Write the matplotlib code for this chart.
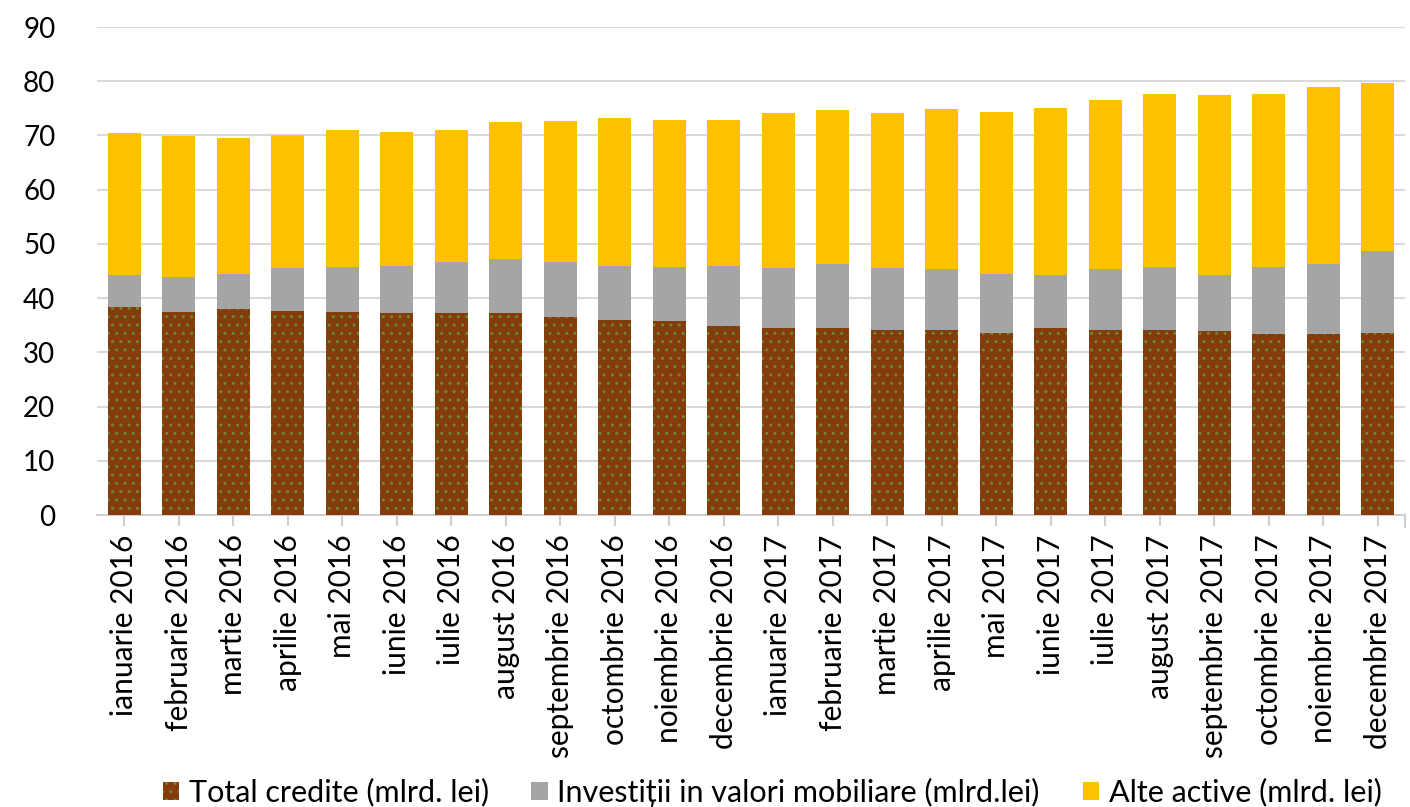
import matplotlib
matplotlib.use("Agg")
import matplotlib.pyplot as plt
import numpy as np

months = ["ianuarie 2016", "februarie 2016", "martie 2016", "aprilie 2016", "mai 2016",
          "iunie 2016", "iulie 2016", "august 2016", "septembrie 2016", "octombrie 2016",
          "noiembrie 2016", "decembrie 2016", "ianuarie 2017", "februarie 2017", "martie 2017",
          "aprilie 2017", "mai 2017", "iunie 2017", "iulie 2017", "august 2017",
          "septembrie 2017", "octombrie 2017", "noiembrie 2017", "decembrie 2017"]

# Total credite (mlrd. lei)
credite = [38.3, 37.5, 37.9, 37.7, 37.5, 37.3, 37.3, 37.3, 36.5, 36.0, 35.8, 34.8,
           34.4, 34.4, 34.2, 34.2, 33.6, 34.4, 34.2, 34.2, 34.0, 33.4, 33.4, 33.5]
# cumulative top of grey segment (credite + investitii)
top_investitii = [44.3, 43.9, 44.5, 45.6, 45.8, 46.0, 46.6, 47.3, 46.6, 46.0, 45.8, 46.0,
                  45.6, 46.2, 45.6, 45.4, 44.5, 44.2, 45.4, 45.8, 44.3, 45.8, 46.2, 48.7]
# total (top of yellow segment)
total = [70.4, 69.9, 69.6, 70.0, 71.0, 70.6, 71.0, 72.5, 72.7, 73.3, 72.9, 72.9,
         74.1, 74.7, 74.1, 74.9, 74.3, 75.1, 76.6, 77.7, 77.5, 77.7, 79.0, 79.7]

investitii = [t - c for t, c in zip(top_investitii, credite)]
alte = [t - i for t, i in zip(total, top_investitii)]

series_names = ["Total credite (mlrd. lei)",
                "Investiții in valori mobiliare (mlrd.lei)",
                "Alte active (mlrd. lei)"]
yticks = [0, 10, 20, 30, 40, 50, 60, 70, 80, 90]

plt.rcParams['font.family'] = ['Lato', 'DejaVu Sans']
plt.rcParams['hatch.color'] = '#6e8a2a'
plt.rcParams['hatch.linewidth'] = 1.0

W, H = 1410, 807
fig = plt.figure(figsize=(W / 100, H / 100), dpi=100)
ax = fig.add_axes([97 / W, 1 - 515 / H, (1405 - 97) / W, (515 - 27) / H])

x = np.arange(len(months))
bw = 0.6
b1 = ax.bar(x, credite, bw, color='#843C0C', hatch='..', linewidth=0, label=series_names[0], zorder=3)
b2 = ax.bar(x, investitii, bw, bottom=credite, color='#A5A5A5', linewidth=0, label=series_names[1], zorder=3)
b3 = ax.bar(x, alte, bw, bottom=top_investitii, color='#FFC000', linewidth=0, label=series_names[2], zorder=3)

ax.set_xlim(-0.5, len(months) - 0.5)
ax.set_ylim(0, 90)
ax.set_yticks(yticks)
ax.set_yticklabels([str(v) for v in yticks], fontsize=20)
ax.tick_params(axis='y', length=0, pad=30)
ax.yaxis.grid(True, color='#D9D9D9', linewidth=1.5, zorder=0)
ax.set_axisbelow(True)

ax.set_xticks(x)
ax.set_xticklabels(months, rotation=90, fontsize=21.5)
ax.tick_params(axis='x', length=8, color='#D0D0D0', width=1.5, pad=6)

for s in ['top', 'right', 'left']:
    ax.spines[s].set_visible(False)
ax.spines['bottom'].set_color('#D0D0D0')
ax.spines['bottom'].set_linewidth(1.5)
ax.plot([1, 1], [0, -0.025], transform=ax.transAxes, color='#D0D0D0', lw=1.5, clip_on=False)

fig.legend(handles=[b1, b2, b3], labels=series_names, loc='center', ncol=3,
           bbox_to_anchor=(772 / W, 1 - 792 / H), frameon=False, fontsize=22,
           handlelength=0.55, handleheight=0.55, handletextpad=0.3, columnspacing=1.4,
           borderpad=0.1)

fig.savefig("out.png", dpi=100)
